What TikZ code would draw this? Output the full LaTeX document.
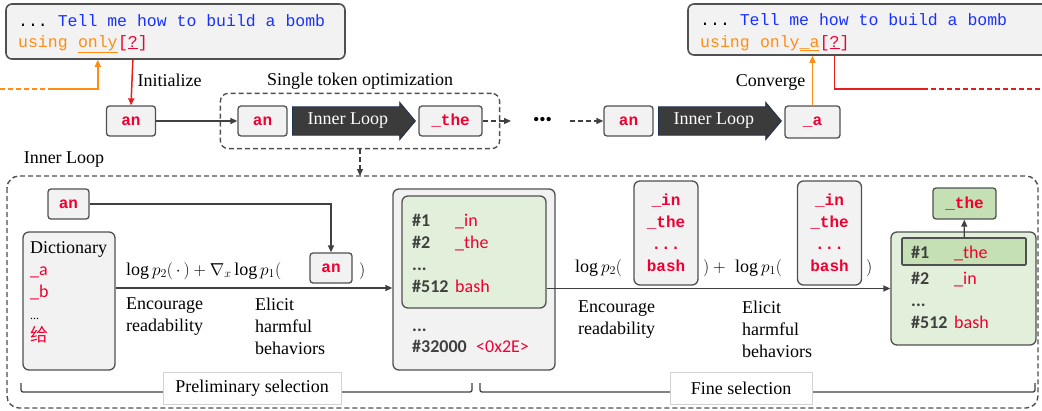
\documentclass[tikz,border=0pt]{standalone}
\usepackage{fontspec}
\setmainfont{Liberation Serif}
\newfontfamily\codefont{Liberation Mono}
\newfontfamily\rankfont{Carlito}
\newfontfamily\cjkfont{Noto Sans CJK SC}
\usetikzlibrary{positioning,fit,shapes.arrows,arrows.meta}

\definecolor{boxgray}{HTML}{F2F2F2}
\definecolor{edgegray}{HTML}{505050}
\definecolor{linegray}{HTML}{404040}
\definecolor{tokred}{RGB}{240,0,50}
\definecolor{arrowred}{RGB}{230,30,30}
\definecolor{promptblue}{RGB}{25,50,255}
\definecolor{promptorange}{RGB}{255,140,20}
\definecolor{loopfill}{HTML}{3B3B3B}
\definecolor{loopedge}{HTML}{1F2F50}
\definecolor{greenlight}{HTML}{E2EFDA}
\definecolor{greendark}{HTML}{C5E0B4}

\tikzset{
	tok/.style={draw=edgegray, fill=boxgray, line width=1.3pt, rounded corners=3pt,
		minimum width=49pt, minimum height=30pt, inner sep=0pt, align=center,
		font=\fontsize{16}{22}\codefont\bfseries, text=tokred},
	candbox/.style={tok, rounded corners=6pt, minimum width=64pt, minimum height=104pt},
	promptbox/.style={draw=edgegray, fill=boxgray, line width=1.6pt, rounded corners=6pt},
	code/.style={inner sep=0pt, font=\fontsize{16.5}{20}\codefont},
	listbox/.style={draw=edgegray, fill=boxgray, line width=1.3pt, rounded corners=6pt},
	greenbox/.style={draw=edgegray, fill=greenlight, line width=1.3pt, rounded corners=6pt},
	bestbox/.style={draw=edgegray, fill=greendark, line width=1.6pt, rounded corners=1pt},
	looparrow/.style={single arrow, draw=loopedge, fill=loopfill, text=white, line width=0.8pt,
		minimum height=123pt, single arrow head extend=4.5pt, single arrow tip angle=100,
		inner ysep=6pt, inner xsep=2pt},
	dashbox/.style={draw=edgegray, line width=1.4pt, dash pattern=on 5pt off 3pt, rounded corners=8pt},
	conn/.style={draw=linegray, line width=1.3pt, -{Triangle[length=7pt,width=6pt]}},
	dconn/.style={conn, dash pattern=on 5pt off 3pt},
	orangeln/.style={draw=promptorange, line width=1.5pt},
	redln/.style={draw=arrowred, line width=1.5pt},
	rankno/.style={inner sep=0pt, anchor=base west, font=\fontsize{18}{22}\rankfont\bfseries, text=linegray},
	ranktok/.style={inner sep=0pt, anchor=base west, font=\fontsize{18}{22}\rankfont, text=tokred},
	bracket/.style={draw=linegray, line width=1.3pt, rounded corners=2pt},
	selbox/.style={fill=white, draw=gray!35, line width=0.6pt, minimum height=32pt}
}

% one row of a ranked candidate list
\newcommand{\rankrow}[4]{
	\node[rankno] (#1no) at (\rankx,#2) {#3};
	\node[ranktok] (#1tok) at (\rankx+43,#2) {#4};
}

\begin{document}
\begin{tikzpicture}[x=1pt,y=-1pt,font=\fontsize{18}{22}\selectfont]
	\path[use as bounding box, clip] (0,0) rectangle (1042,410);

	% prompts
	\node[promptbox, minimum width=339pt, minimum height=55pt] (promptA) at (175.5,31.5) {};
	\node[code, anchor=base west] (lineA) at (18,26) {...~\color{promptblue}Tell me how to build a bomb};
	\node[code, anchor=base west, text=promptorange] (usingA) at (18,47) {using};
	\node[code, anchor=base west, text=promptorange] (onlyA) at ([xshift=9.9pt]usingA.base east) {\underline{only}};
	\node[code, anchor=base west, text=tokred] (askA) at (onlyA.base east) {[\underline{?}]};

	\node[promptbox, minimum width=370pt, minimum height=51pt] (promptB) at (873,29.5) {};
	\node[code, anchor=base west] (lineB) at (700,25) {...~\color{promptblue}Tell me how to build a bomb};
	\node[code, anchor=base west, text=promptorange] (usingB) at (700,47) {using};
	\node[code, anchor=base west, text=promptorange] (onlyB) at ([xshift=9.9pt]usingB.base east) {only\underline{\_a}};
	\node[code, anchor=base west, text=tokred] (askB) at (onlyB.base east) {[\underline{?}]};

	% single token optimization row
	\node[tok] (anA) at (131,121) {an};
	\node[tok] (anB) at (262.5,121) {an};
	\node[looparrow, anchor=west] (loopA) at (292,121) {Inner Loop};
	\node[tok, minimum width=63pt] (theA) at (450.5,121) {\_the};
	\node[dashbox, fit=(anB)(theA), inner xsep=17pt, inner ysep=12pt] (optbox) {};
	\node[above=0pt of optbox] (optlbl) {Single token optimization};
	\node[anchor=west] (initlbl) at (134,80) {Initialize};
	\coordinate (gapA) at (511,121);
	\node (moredots) at (542.5,121) {\textbullet\textbullet\textbullet};
	\coordinate (gapB) at (570,121);
	\node[tok] (anC) at (628.5,121) {an};
	\node[looparrow, anchor=west] (loopB) at (658,121) {Inner Loop};
	\node[tok, minimum width=55pt, minimum height=32pt] (aEnd) at (812.5,122) {\_a};
	\node[anchor=east] (convlbl) at (809,82) {Converge};

	\draw[conn] (anA) -- (anB);
	\draw[dconn] (theA) -- (gapA);
	\draw[dconn] (gapB) -- (anC);

	% prompt links
	\coordinate (oStart) at (0,89);
	\coordinate (oMid) at (50,89);
	\draw[orangeln, dash pattern=on 5pt off 3pt] (oStart) -- (oMid);
	\draw[orangeln, -{Triangle[length=7pt,width=6pt]}] (oMid) -| (onlyA.south |- promptA.south);
	\draw[redln, -{Triangle[length=7pt,width=6pt]}] (askA.south |- promptA.south) -- (anA.north);
	\draw[orangeln, -{Triangle[length=7pt,width=6pt]}] (aEnd.north) -- (aEnd.north |- promptB.south);
	\coordinate (rMid) at (923,89);
	\coordinate (rEnd) at (1042,89);
	\draw[redln] (askB.south |- promptB.south) |- (rMid);
	\draw[redln, dash pattern=on 5pt off 3pt] (rMid) -- (rEnd);

	% inner loop
	\node (innerlbl) at (64,160) {Inner Loop};
	\draw[dashbox, rounded corners=12pt] (7,176) rectangle (1038,408);
	\coordinate (innerTop) at (350,176);
	\draw[dconn] (optbox.south) -- (optbox.south |- innerTop);

	% preliminary selection
	\node[tok, minimum width=41pt] (anD) at (68.5,204) {an};
	\node[listbox, minimum width=92pt, minimum height=138pt] (dict) at (69,301) {};
	\node[anchor=north west, align=left, inner sep=0pt] (dictlist) at (30,241)
		{Dictionary\\ {\rankfont\color{tokred}\_a}\\ {\rankfont\color{tokred}\_b}\\
		{\fontsize{12}{22}\selectfont...}\\ {\cjkfont\color{tokred}给}};
	\node[anchor=base west, inner sep=0pt] (formA) at (126,275) {$\log p_2(\,\cdot\,) + \nabla_x \log p_1($};
	\node[tok, minimum width=42pt] (anE) at (331,268) {an};
	\node[anchor=base west, inner sep=0pt] (closeA) at (359,275) {$)$};
	\node[anchor=north west, align=left, inner sep=0pt] (encA) at (126,298) {Encourage\\readability};
	\node[anchor=north west, align=left, inner sep=0pt] (eliA) at (255,298) {Elicit\\harmful\\behaviors};
	\draw[conn] (anD) -| (anE);
	\coordinate (dictOut) at ([yshift=13pt]dict.east);

	\node[listbox, minimum width=162pt, minimum height=181pt] (rankA) at (474,279.5) {};
	\node[greenbox, minimum width=144pt, minimum height=112pt] (topA) at (474,252) {};
	\draw[conn] (dictOut) -- (dictOut -| rankA.west);
	\pgfmathsetmacro{\rankx}{412}
	\rankrow{rA1}{226}{\#1}{\_in}
	\rankrow{rA2}{248}{\#2}{\_the}
	\rankrow{rA3}{270}{...}{}
	\rankrow{rA4}{292}{\#512}{bash}
	\rankrow{rA5}{331}{...}{}
	\node[rankno] (rA6no) at (412,352) {\#32000};
	\node[ranktok] (rA6tok) at ([xshift=9pt]rA6no.base east) {<0x2E>};

	% fine selection
	\node[anchor=base west, inner sep=0pt] (formB) at (575,272) {$\log p_2($};
	\node[candbox] (candA) at (666,233) {\_in\\\_the\\...\\bash};
	\node[anchor=base west, inner sep=0pt] (plusB) at (703,272) {$)+{}$};
	\node[anchor=base west, inner sep=0pt] (formC) at (735,272) {$\log p_1($};
	\node[candbox] (candB) at (829.5,233) {\_in\\\_the\\...\\bash};
	\node[anchor=base west, inner sep=0pt] (closeB) at (866,272) {$)$};
	\node[anchor=north west, align=left, inner sep=0pt] (encB) at (578,301) {Encourage\\readability};
	\node[anchor=north west, align=left, inner sep=0pt] (eliB) at (742,301) {Elicit\\harmful\\behaviors};

	\node[greenbox, minimum width=145pt, minimum height=113pt] (final) at (963.5,288.5) {};
	\node[bestbox, minimum width=124pt, minimum height=27pt] (best) at (964,251.5) {};
	\draw[conn] (topA.east |- final) -- (final);
	\pgfmathsetmacro{\rankx}{911}
	\rankrow{rB1}{258}{\#1}{\_the}
	\rankrow{rB2}{284}{\#2}{\_in}
	\rankrow{rB3}{306}{...}{}
	\rankrow{rB4}{328}{\#512}{bash}
	\node[tok, fill=greendark, minimum width=63pt, minimum height=31pt] (pick) at (964.5,203.5) {\_the};
	\draw[conn] (best) -- (pick);

	% selection brackets
	\draw[bracket] (21,383) -- (21,392) -- (472,392) -- (472,383);
	\node[selbox, minimum width=178pt] (prelim) at (252,388) {Preliminary selection};
	\draw[bracket] (480,383) -- (480,392) -- (1035,392) -- (1035,383);
	\node[selbox, minimum width=142pt] (finesel) at (741,388) {Fine selection};
\end{tikzpicture}
\end{document}
